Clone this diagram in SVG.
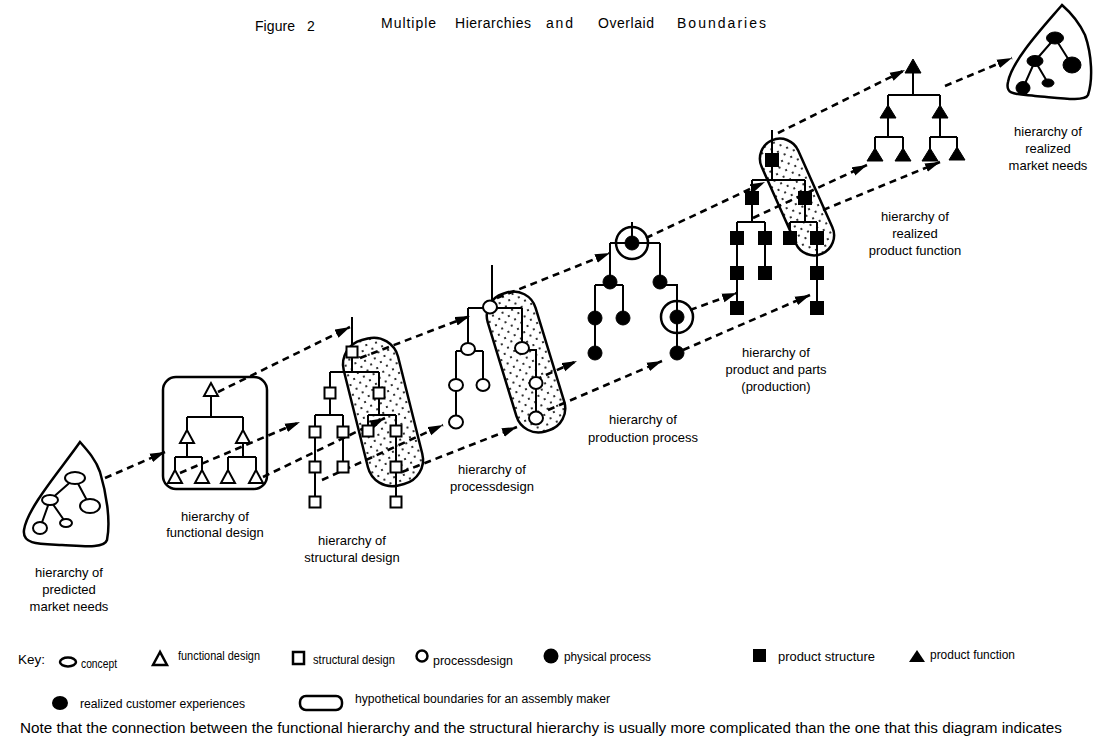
<svg xmlns="http://www.w3.org/2000/svg" width="1102" height="748" viewBox="0 0 1102 748">
<style>
.ln{stroke:#000;stroke-width:2;fill:none}
.ds{stroke:#000;stroke-width:2.6;stroke-dasharray:7 5;fill:none;marker-end:url(#ah)}
.o{fill:#fff;stroke:#000;stroke-width:2}
.f{fill:#000;stroke:#000;stroke-width:1}
.bd{fill:none;stroke:#000;stroke-width:2.5}
.cap{fill:url(#dots);stroke:#000;stroke-width:2.5}
.t{font-family:"Liberation Sans",Arial,sans-serif;font-size:13px;fill:#000}
.k{font-family:"Liberation Sans",Arial,sans-serif;font-size:12.5px;fill:#000}
.h{font-family:"Liberation Sans",Arial,sans-serif;font-size:14px;fill:#000}
.c{text-anchor:middle}
</style>
<defs>
<marker id="ah" markerUnits="userSpaceOnUse" markerWidth="16" markerHeight="10" refX="15" refY="5" orient="auto">
<path d="M0,0.5 L15,5 L0,9.5 Z" fill="#000"/>
</marker>
<pattern id="dots" patternUnits="userSpaceOnUse" width="10" height="10">
<rect width="10" height="10" fill="#fff"/>
<circle cx="3" cy="3" r="1.1" fill="#000"/>
<circle cx="8" cy="8" r="1.1" fill="#000"/>
</pattern>
</defs>
<rect width="1102" height="748" fill="#fff"/>

<g id="title">
<text class="h" x="255" y="31" textLength="40">Figure</text>
<text class="h" x="307" y="31">2</text>
<text class="h" x="381" y="28" textLength="55">Multiple</text>
<text class="h" x="455" y="28" textLength="76">Hierarchies</text>
<text class="h" x="546" y="28" textLength="27">and</text>
<text class="h" x="598" y="28" textLength="56">Overlaid</text>
<text class="h" x="677" y="28" textLength="89">Boundaries</text>
</g>

<g id="boundaries">
<rect class="cap" x="355" y="337" width="56" height="150" rx="25" transform="rotate(-14 383 412)"/>
<rect class="cap" x="501" y="290" width="50" height="144" rx="23" transform="rotate(-17 526 362)"/>
<rect class="cap" x="777" y="135" width="40" height="124" rx="20" transform="rotate(-24 797 197)"/>
</g>

<g id="connectors">
<line class="ds" x1="105" y1="478" x2="165" y2="452"/>
<line class="ds" x1="218" y1="392" x2="350" y2="327"/>
<line class="ds" x1="360" y1="358" x2="470" y2="316"/>
<line class="ds" x1="497" y1="298" x2="610" y2="253"/>
<line class="ds" x1="646" y1="238" x2="765" y2="182"/>
<line class="ds" x1="778" y1="133" x2="905" y2="70"/>
<line class="ds" x1="945" y1="86" x2="1012" y2="58"/>
<line class="ds" x1="180" y1="473" x2="300" y2="422"/>
<line class="ds" x1="263" y1="477" x2="385" y2="418"/>
<line class="ds" x1="322" y1="480" x2="443" y2="425"/>
<line class="ds" x1="402" y1="472" x2="517" y2="427"/>
<line class="ds" x1="535" y1="380" x2="577" y2="361"/>
<line class="ds" x1="548" y1="410" x2="662" y2="361"/>
<line class="ds" x1="690" y1="310" x2="737" y2="293"/>
<line class="ds" x1="683" y1="350" x2="810" y2="295"/>
<line class="ds" x1="753" y1="218" x2="867" y2="165"/>
<line class="ds" x1="823" y1="210" x2="940" y2="162"/>
</g>

<g id="predicted-market-needs">
<path class="bd" d="M80,442 C62,468 27,508 24,530 C22,545 40,544 62,545 C82,546 104,549 107,540 C111,520 106,492 100,472 C96,460 88,451 80,442 Z"/>
<path class="ln" d="M75,478 L50,500 M75,478 L90,506 M50,500 L40,528 M50,500 L66,523"/>
<ellipse class="o" cx="75" cy="478" rx="10" ry="6"/>
<ellipse class="o" cx="50" cy="500" rx="8" ry="5"/>
<ellipse class="o" cx="90" cy="506" rx="10" ry="7"/>
<ellipse class="o" cx="40" cy="528" rx="7" ry="6"/>
<ellipse class="o" cx="66" cy="523" rx="6" ry="4"/>
<text class="t c" x="69" y="577">hierarchy of</text>
<text class="t c" x="69" y="594">predicted</text>
<text class="t c" x="69" y="611">market needs</text>
</g>

<g id="functional-design">
<rect class="bd" x="163" y="377" width="104" height="112" rx="13"/>
<path class="ln" d="M211,396 V417 M187,417 H243 M187,417 V431 M243,417 V431 M187,443 V457 M175,457 H202 M175,457 V471 M202,457 V471 M243,443 V457 M228,457 H256 M228,457 V471 M256,457 V471"/>
<polygon class="o" points="211,383 204,396 218,396"/>
<polygon class="o" points="187,430 180,443 194,443"/>
<polygon class="o" points="243,430 236,443 250,443"/>
<polygon class="o" points="175,470 168,483 182,483"/>
<polygon class="o" points="202,470 195,483 209,483"/>
<polygon class="o" points="228,470 221,483 235,483"/>
<polygon class="o" points="256,470 249,483 263,483"/>
<text class="t c" x="215" y="521">hierarchy of</text>
<text class="t c" x="215" y="537">functional design</text>
</g>

<g id="structural-design">
<path class="ln" d="M352,317 V372 M330,372 H379 M330,372 V415 M379,372 V415 M315,415 H343 M368,415 H396 M315,415 V502 M343,415 V467 M368,415 V431 M396,415 V502"/>
<rect class="o" x="346.5" y="346.5" width="11" height="11"/>
<rect class="o" x="324.5" y="387.5" width="11" height="11"/>
<rect class="o" x="373.5" y="387.5" width="11" height="11"/>
<rect class="o" x="309.5" y="426.5" width="11" height="11"/>
<rect class="o" x="337.5" y="426.5" width="11" height="11"/>
<rect class="o" x="362.5" y="425.5" width="11" height="11"/>
<rect class="o" x="390.5" y="425.5" width="11" height="11"/>
<rect class="o" x="309.5" y="461.5" width="11" height="11"/>
<rect class="o" x="337.5" y="461.5" width="11" height="11"/>
<rect class="o" x="390.5" y="461.5" width="11" height="11"/>
<rect class="o" x="309.5" y="496.5" width="11" height="11"/>
<rect class="o" x="390.5" y="496.5" width="11" height="11"/>
<text class="t c" x="352" y="545">hierarchy of</text>
<text class="t c" x="352" y="562">structural design</text>
</g>

<g id="process-design">
<path class="ln" d="M492,265 V302 M468,308 H522 M468,308 V349 M522,308 V348 M456,351 H483 M456,351 V422 M483,351 V385 M522,350 H536 V418"/>
<ellipse class="o" cx="490" cy="307" rx="7" ry="6.5"/>
<ellipse class="o" cx="468" cy="349" rx="7" ry="6"/>
<ellipse class="o" cx="522" cy="348" rx="7" ry="6"/>
<ellipse class="o" cx="456" cy="385" rx="7" ry="6"/>
<ellipse class="o" cx="483" cy="385" rx="6.5" ry="6"/>
<ellipse class="o" cx="536" cy="383" rx="6.5" ry="6"/>
<ellipse class="o" cx="456" cy="422" rx="7" ry="6.5"/>
<ellipse class="o" cx="536" cy="418" rx="7" ry="6.5"/>
<text class="t c" x="492" y="474">hierarchy of</text>
<text class="t c" x="492" y="491">processdesign</text>
</g>

<g id="production-process">
<path class="ln" d="M632,222 V243 M610,243 H660 M610,243 V282 M660,243 V282 M595,285 H623 M595,285 V353 M623,285 V318 M660,285 H677 V353"/>
<circle cx="632" cy="243" r="16" class="bd"/>
<circle cx="677" cy="317" r="16" class="bd"/>
<circle class="f" cx="632" cy="243" r="7"/>
<circle class="f" cx="610" cy="282" r="7"/>
<circle class="f" cx="660" cy="282" r="7"/>
<circle class="f" cx="595" cy="318" r="7"/>
<circle class="f" cx="623" cy="318" r="7"/>
<circle class="f" cx="677" cy="317" r="7"/>
<circle class="f" cx="595" cy="353" r="7"/>
<circle class="f" cx="677" cy="353" r="7"/>
<text class="t c" x="643" y="424">hierarchy of</text>
<text class="t c" x="643" y="442">production process</text>
</g>

<g id="product-and-parts">
<path class="ln" d="M772,130 V180 M752,180 H805 M752,180 V222 M805,180 V222 M737,222 H765 M790,222 H817 M737,222 V308 M765,222 V273 M790,222 V238 M817,222 V308"/>
<rect class="f" x="765.5" y="153.5" width="13" height="13"/>
<rect class="f" x="745.5" y="191.5" width="13" height="13"/>
<rect class="f" x="798.5" y="191.5" width="13" height="13"/>
<rect class="f" x="730.5" y="231.5" width="13" height="13"/>
<rect class="f" x="758.5" y="231.5" width="13" height="13"/>
<rect class="f" x="783.5" y="231.5" width="13" height="13"/>
<rect class="f" x="810.5" y="231.5" width="13" height="13"/>
<rect class="f" x="730.5" y="266.5" width="13" height="13"/>
<rect class="f" x="758.5" y="266.5" width="13" height="13"/>
<rect class="f" x="810.5" y="266.5" width="13" height="13"/>
<rect class="f" x="730.5" y="301.5" width="13" height="13"/>
<rect class="f" x="810.5" y="301.5" width="13" height="13"/>
<text class="t c" x="776" y="357">hierarchy of</text>
<text class="t c" x="776" y="374">product and parts</text>
<text class="t c" x="776" y="391">(production)</text>
</g>

<g id="product-function">
<path class="ln" d="M913,73 V95 M888,95 H940 M888,95 V106 M940,95 V106 M888,118 V137 M875,137 H903 M875,137 V149 M903,137 V149 M940,118 V137 M930,137 H957 M930,137 V149 M957,137 V149"/>
<polygon class="f" points="913,59 905,73 921,73"/>
<polygon class="f" points="888,105 880,118 896,118"/>
<polygon class="f" points="940,105 932,118 948,118"/>
<polygon class="f" points="875,148 867,161 883,161"/>
<polygon class="f" points="903,148 895,161 911,161"/>
<polygon class="f" points="930,148 922,161 938,161"/>
<polygon class="f" points="957,147 949,160 965,160"/>
<text class="t c" x="915" y="221">hierarchy of</text>
<text class="t c" x="915" y="238">realized</text>
<text class="t c" x="915" y="255">product function</text>
</g>

<g id="realized-market-needs">
<path class="bd" d="M1062,5 C1045,25 1012,60 1008,82 C1005,95 1015,94 1035,96 C1060,98 1085,102 1088,95 C1093,80 1092,55 1085,35 C1078,20 1070,12 1062,5 Z"/>
<path class="ln" d="M1055,38 L1035,61 M1055,38 L1072,65 M1035,61 L1023,88 M1035,61 L1048,83"/>
<ellipse class="f" cx="1055" cy="38" rx="8.5" ry="6"/>
<ellipse class="f" cx="1035" cy="61" rx="8" ry="5.5"/>
<ellipse class="f" cx="1072" cy="65" rx="9" ry="8"/>
<ellipse class="f" cx="1023" cy="88" rx="7" ry="6.5"/>
<ellipse class="f" cx="1048" cy="83" rx="6" ry="4"/>
<text class="t c" x="1048" y="136">hierarchy of</text>
<text class="t c" x="1048" y="153">realized</text>
<text class="t c" x="1048" y="170">market needs</text>
</g>

<g id="key">
<text class="k" x="18" y="664" textLength="27" lengthAdjust="spacingAndGlyphs">Key:</text>
<ellipse cx="68" cy="662" rx="8" ry="4.5" fill="#fff" stroke="#000" stroke-width="2.5"/>
<text class="k" x="81" y="668" textLength="36" lengthAdjust="spacingAndGlyphs">concept</text>
<polygon points="160,652 153,665 167,665" fill="#fff" stroke="#000" stroke-width="2.5"/>
<text class="k" x="178" y="660" textLength="82" lengthAdjust="spacingAndGlyphs">functional design</text>
<rect x="293" y="652" width="11" height="12" fill="#fff" stroke="#000" stroke-width="2.5"/>
<text class="k" x="313" y="664" textLength="82" lengthAdjust="spacingAndGlyphs">structural design</text>
<circle cx="422" cy="656" r="5.5" fill="#fff" stroke="#000" stroke-width="2.5"/>
<text class="k" x="433" y="665" textLength="80" lengthAdjust="spacingAndGlyphs">processdesign</text>
<circle cx="551" cy="656" r="7.5" fill="#000"/>
<text class="k" x="564" y="661" textLength="87" lengthAdjust="spacingAndGlyphs">physical process</text>
<rect x="753" y="649" width="13" height="13" fill="#000"/>
<text class="k" x="778" y="661" textLength="97" lengthAdjust="spacingAndGlyphs">product structure</text>
<polygon points="917,650 909,662 925,662" fill="#000"/>
<text class="k" x="930" y="659" textLength="85" lengthAdjust="spacingAndGlyphs">product function</text>
<ellipse cx="60" cy="703" rx="8" ry="7" fill="#000"/>
<text class="k" x="80" y="708" textLength="165" lengthAdjust="spacingAndGlyphs">realized customer experiences</text>
<rect x="300" y="696" width="42" height="14" rx="6" fill="none" stroke="#000" stroke-width="2.5"/>
<text class="k" x="355" y="703" textLength="255" lengthAdjust="spacingAndGlyphs">hypothetical boundaries for an assembly maker</text>
<text class="k" x="20" y="733" style="font-size:14px" textLength="1042" lengthAdjust="spacingAndGlyphs">Note that the connection between the functional hierarchy and the structural hierarchy is usually more complicated than the one that this diagram indicates</text>
</g>
</svg>
